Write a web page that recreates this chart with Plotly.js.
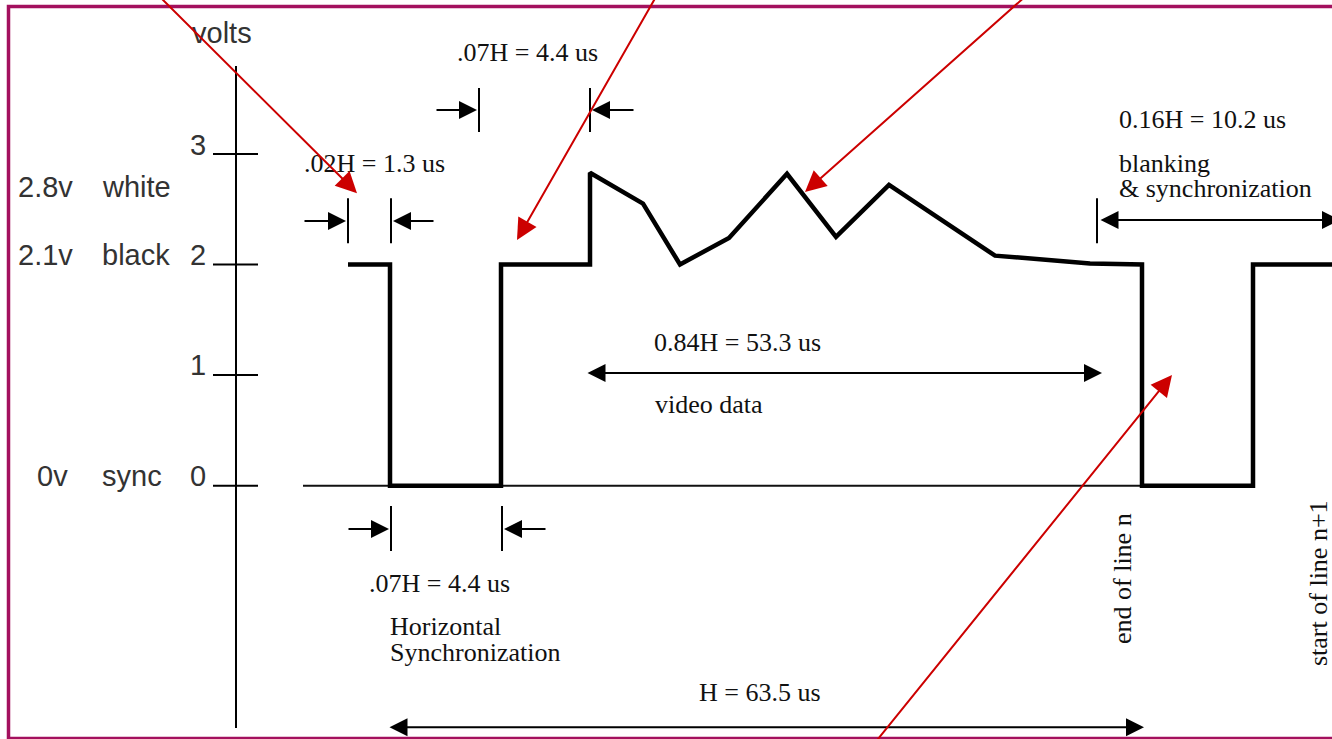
<!DOCTYPE html>
<html>
<head>
<meta charset="utf-8">
<script src="https://cdn.plot.ly/plotly-3.0.1.min.js"></script>
<style>html,body{margin:0;padding:0;background:#fff;}#chart{width:1332px;height:739px;}</style>
</head>
<body>
<div id="chart"></div>
<script>
// ---- data (horizontal = diagram time position, vertical = volts) ----
const sigTime  = [348, 390, 390, 501, 501, 590, 590, 643, 680, 729, 787, 836, 889, 995, 1090, 1142, 1142, 1253, 1253, 1345];
const sigVolts = [2,   2,   0,   0,   2,   2,   2.83, 2.55, 2.0, 2.24, 2.82, 2.25, 2.72, 2.08, 2.01, 2, 0, 0, 2, 2];
const baseTime  = [303, 1142];
const baseVolts = [0, 0];
const tickVals  = [0, 1, 2, 3];
const tickText  = ['0', '1', '2', '3'];
const levelVoltText = ['2.8v', '2.1v', '0v'];
const levelNameText = ['white', 'black', 'sync'];
const dimTexts = ['.02H = 1.3 us', '.07H = 4.4 us', '0.16H = 10.2 us', '0.84H = 53.3 us', '.07H = 4.4 us', 'H = 63.5 us'];
const noteTexts = ['blanking', '& synchronization', 'video data', 'Horizontal', 'Synchronization', 'end of line n', 'start of line n+1'];

const SANS = 'Liberation Sans, Arial, sans-serif';
const SERIF = 'Liberation Serif, Times New Roman, serif';

const traces = [
  {x: baseTime, y: baseVolts, mode: 'lines', line: {color: '#111', width: 2}, hoverinfo: 'skip'},
  {x: sigTime, y: sigVolts, mode: 'lines', line: {color: '#000', width: 4.5, shape: 'linear'}, hoverinfo: 'skip'}
];

const shapes = [];
// border
shapes.push({type: 'rect', xref: 'x', yref: 'y', x0: 8.5, x1: 1360, y0: 4.333, y1: -2.285,
  line: {color: '#a3105e', width: 3.5}, fillcolor: 'rgba(0,0,0,0)', layer: 'below'});
// vertical axis
shapes.push({type: 'line', xref: 'x', yref: 'y', x0: 236, x1: 236, y0: 3.795, y1: -2.19, line: {color: '#000', width: 2}});
tickVals.forEach(v => shapes.push({type: 'line', xref: 'x', yref: 'y', x0: 213, x1: 258, y0: v, y1: v, line: {color: '#000', width: 2}}));
// dimension extension bars
const bar = (x, y0, y1) => shapes.push({type: 'line', xref: 'x', yref: 'y', x0: x, x1: x, y0: y0, y1: y1, line: {color: '#000', width: 2}});
bar(348, 2.60, 2.193); bar(391, 2.60, 2.193);
bar(479, 3.596, 3.198); bar(590, 3.596, 3.198);
bar(391, -0.184, -0.590); bar(502, -0.184, -0.590);
bar(1097, 2.60, 2.193);

const ann = [];
const txt = (text, x, y, font, opts) => ann.push(Object.assign({text: text, x: x, y: y, xref: 'x', yref: 'y', showarrow: false,
  xanchor: 'left', yanchor: 'middle', font: font}, opts || {}));
const sansF = {family: SANS, size: 29, color: '#333'};
const serifF = {family: SERIF, size: 26, color: '#111'};

txt('volts', 190, 4.09, sansF);
const tickY = [0.088, 1.09, 2.09, 3.08];
tickVals.forEach((v, i) => txt(tickText[i], 208, tickY[i], sansF, {xanchor: 'right'}));
const lvlY = [2.70, 2.085, 0.088];
const lvlX = [16, 16, 35];
levelVoltText.forEach((t, i) => txt(t, lvlX[i], lvlY[i], sansF));
levelNameText.forEach((t, i) => txt(t, 100, lvlY[i], sansF));

txt(dimTexts[0], 302, 2.916, serifF);
txt(dimTexts[1], 455, 3.921, serifF);
txt(dimTexts[2], 1117, 3.307, serifF);
txt(noteTexts[0], 1117, 2.916, serifF);
txt(noteTexts[1], 1117, 2.69, serifF);
txt(dimTexts[3], 652, 1.299, serifF);
txt(noteTexts[2], 653, 0.73, serifF);
txt(dimTexts[4], 367, -0.88, serifF);
txt(noteTexts[3], 388, -1.277, serifF);
txt(noteTexts[4], 388, -1.512, serifF);
txt(dimTexts[5], 697, -1.874, serifF);
txt(noteTexts[5], 1122, -0.844, serifF, {xanchor: 'center', textangle: -90});
txt(noteTexts[6], 1318, -0.88, serifF, {xanchor: 'center', textangle: -90});

// arrows
const arrow = (x, y, ax, ay, color, extra) => ann.push(Object.assign({text: '', x: x, y: y, ax: ax, ay: ay,
  xref: 'x', yref: 'y', axref: 'x', ayref: 'y', showarrow: true, arrowhead: 2, arrowsize: 1.8,
  arrowwidth: 2, arrowcolor: color, standoff: 0, startstandoff: 0}, extra || {}));
// dimension arrows
arrow(346, 2.393, 303, 2.393, '#000');
arrow(393, 2.393, 435, 2.393, '#000');
arrow(477, 3.397, 435, 3.397, '#000');
arrow(592, 3.397, 635, 3.397, '#000');
arrow(389, -0.392, 347, -0.392, '#000');
arrow(504, -0.392, 547, -0.392, '#000');
arrow(1102, 1.019, 586, 1.019, '#000', {arrowside: 'end+start'});
arrow(1340, 2.402, 1099, 2.402, '#000', {arrowside: 'end+start'});
arrow(1144, -2.183, 388, -2.183, '#000', {arrowside: 'end+start'});
// red pointer arrows
arrow(357, 2.645, 158, 4.437, '#cc0000', {arrowsize: 2.1});
arrow(517, 2.221, 657, 4.437, '#cc0000', {arrowsize: 2.1});
arrow(805, 2.655, 1027, 4.437, '#cc0000', {arrowsize: 2.1});
arrow(1172, 1.001, 874, -2.335, '#cc0000', {arrowsize: 2.1});

const layout = {
  width: 1332, height: 739,
  margin: {l: 0, r: 0, t: 0, b: 0, pad: 0},
  paper_bgcolor: '#fff', plot_bgcolor: '#fff',
  showlegend: false,
  xaxis: {range: [0, 1332], visible: false, fixedrange: true},
  yaxis: {range: [-2.2903, 4.3915], visible: false, fixedrange: true},
  shapes: shapes,
  annotations: ann
};
Plotly.newPlot('chart', traces, layout, {staticPlot: true, displayModeBar: false});
</script>
</body>
</html>
